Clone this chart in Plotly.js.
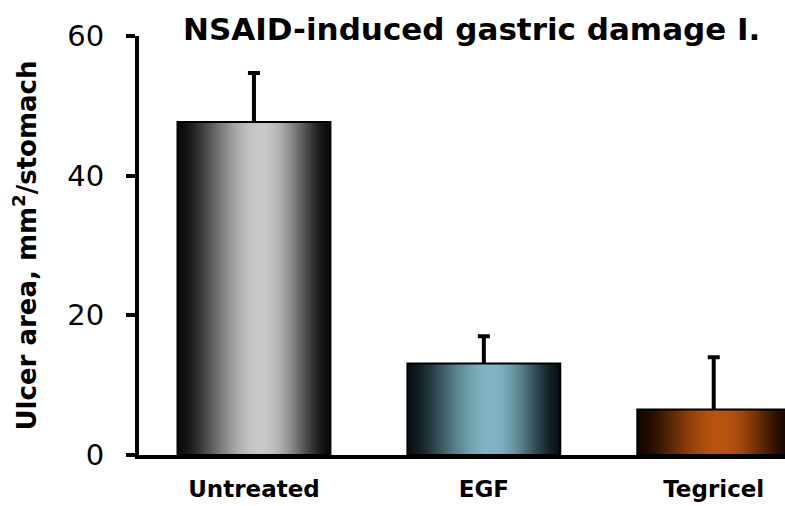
<!DOCTYPE html>
<html><head><meta charset="utf-8">
<script src="https://cdn.plot.ly/plotly-3.0.1.min.js"></script>
<style>html,body{margin:0;padding:0;background:#fff}#chart{width:785px;height:506px}</style>
</head><body><div id="chart"></div>
<script>
var categories = ['Untreated', 'EGF', 'Tegricel'];
var ulcerArea = [47.7, 13.1, 6.5];
var errorUpper = [7.0, 3.9, 7.5];
var lightColors = [[200,200,200],[128,180,196],[184,84,15]];
var darkColors = [[10,10,10],[8,18,22],[20,6,0]];

var BAR_W = 0.665, N = 150;
function profile(t){
  var p = 0.55;
  var u = t < p ? (t / p) : ((1 - t) / (1 - p));
  return Math.pow(Math.sin(u * Math.PI / 2), 1.6);
}
function colorAt(i, t){
  var f = profile(t), d = darkColors[i], l = lightColors[i];
  var c = d.map(function(v, j){ return Math.round(v + (l[j] - v) * f); });
  return 'rgb(' + c.join(',') + ')';
}
var traces = [];
// error bars first so the bars cover the part below each bar top
traces.push({
  type: 'bar', x: categories, y: ulcerArea, width: BAR_W,
  marker: {color: 'rgba(0,0,0,0)', line: {width: 0}},
  error_y: {type: 'data', symmetric: false, array: errorUpper, arrayminus: ulcerArea,
            color: '#000', thickness: 4, width: 6},
  hoverinfo: 'skip', showlegend: false
});
var sw = BAR_W / N;
for (var k = 0; k < N; k++) {
  var t = (k + 0.5) / N;
  var w = Math.min(sw * 2, BAR_W - k * sw);
  traces.push({
    type: 'bar', x: categories, y: ulcerArea,
    width: w, offset: -BAR_W / 2 + k * sw,
    marker: {color: categories.map(function(c, i){ return colorAt(i, t); }), line: {width: 0}},
    hoverinfo: 'skip', showlegend: false
  });
}
traces.push({
  type: 'bar', x: categories, y: ulcerArea, width: BAR_W,
  marker: {color: 'rgba(0,0,0,0)', line: {color: '#000', width: 2}},
  showlegend: false
});

var F = 'DejaVu Sans, Verdana, sans-serif';
var layout = {
  width: 785, height: 506,
  margin: {l: 139, r: 0, t: 36, b: 51},
  paper_bgcolor: '#fff', plot_bgcolor: '#fff',
  barmode: 'overlay',
  showlegend: false,
  title: {text: 'NSAID-induced gastric damage I.', x: 0.515, xanchor: 'center', xref: 'paper',
          y: 0.943, yanchor: 'middle', yref: 'container',
          font: {family: F, size: 31, weight: 'bold', color: '#000'}},
  xaxis: {
    type: 'category', range: [-0.5, 2.31], showgrid: false, zeroline: false,
    showline: true, linecolor: '#000', linewidth: 4, ticks: '',
    tickfont: {family: F, size: 23, weight: 'bold', color: '#000'},
    ticklabelstandoff: 10
  },
  yaxis: {
    range: [0, 60], tickvals: [0, 20, 40, 60], showgrid: false, zeroline: false,
    showline: true, linecolor: '#000', linewidth: 4,
    ticks: 'outside', ticklen: 9, tickwidth: 4, tickcolor: '#000',
    tickfont: {family: F, size: 29, color: '#000'},
    ticklabelstandoff: 16,
    title: {text: 'Ulcer area, mm<sup>2</sup>/stomach', standoff: 24,
            font: {family: F, size: 26, weight: 'bold', color: '#000'}}
  }
};
Plotly.newPlot('chart', traces, layout, {displayModeBar: false, staticPlot: true});
</script>
</body></html>
